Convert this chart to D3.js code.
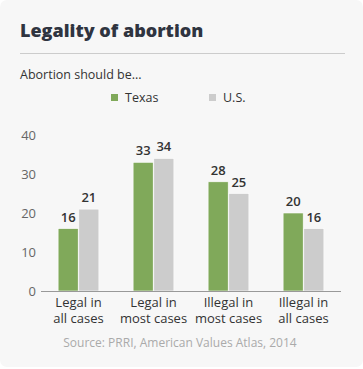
<!DOCTYPE html>
<html><head><meta charset="utf-8">
<script src="https://cdn.jsdelivr.net/npm/d3@7"></script>
<style>body{margin:0;background:#fff;}svg{display:block;font-family:"Open Sans",sans-serif;}</style>
</head><body><svg id="c" width="363" height="369"></svg>
<script>
const categories = [["Legal in","all cases"],["Legal in","most cases"],["Illegal in","most cases"],["Illegal in","all cases"]];
const seriesNames = ["Texas","U.S."];
const texas = [16,33,28,20];
const us = [21,34,25,16];
const yTicks = [0,10,20,30,40];
const colors = ["#80a95a","#cccccc"];

const svg = d3.select("#c");
svg.append("rect").attr("x",0).attr("y",0).attr("width",363).attr("height",367).attr("rx",7).attr("fill","#f7f7f7");
svg.append("text").attr("x",20).attr("y",37).attr("font-size",18).attr("font-weight",800).attr("fill","#2f3440").text("Legality of abortion");
svg.append("line").attr("x1",20).attr("x2",345).attr("y1",53.5).attr("y2",53.5).attr("stroke","#cccccc").attr("stroke-width",1);
svg.append("text").attr("x",20).attr("y",79).attr("font-size",12.5).attr("fill","#333").text("Abortion should be...");

const legX = [111,209];
seriesNames.forEach((n,i)=>{
  svg.append("rect").attr("x",legX[i]).attr("y",94).attr("width",7).attr("height",7).attr("fill",colors[i]);
  svg.append("text").attr("x",legX[i]+14).attr("y",101.5).attr("font-size",12.5).attr("fill","#333").text(n);
});

const x0 = d3.scaleBand().domain(d3.range(categories.length)).range([41,341]).paddingInner(0).paddingOuter(0);
const x1 = d3.scaleBand().domain(d3.range(2)).range([x0.bandwidth()*0.22, x0.bandwidth()*0.78]).padding(0.03);
const y = d3.scaleLinear().domain([0,40]).range([291,135]);

const yAxis = svg.append("g").attr("transform","translate(36,0)").call(d3.axisLeft(y).tickValues(yTicks).tickSize(0).tickPadding(0));
yAxis.select(".domain").remove();
yAxis.selectAll("text").attr("font-size",13).attr("fill","#666").attr("font-family","Open Sans, sans-serif");

const data = categories.map((c,i)=>[texas[i],us[i]]);
const g = svg.selectAll(".grp").data(data).enter().append("g").attr("transform",(d,i)=>`translate(${x0(i)},0)`);
g.selectAll("rect").data(d=>d).enter().append("rect")
  .attr("x",(d,j)=>x1(j)).attr("width",x1.bandwidth())
  .attr("y",d=>y(d)).attr("height",d=>y(0)-y(d))
  .attr("fill",(d,j)=>colors[j]).attr("stroke","#fff").attr("stroke-width",0.6);
g.selectAll("text").data(d=>d).enter().append("text")
  .attr("x",(d,j)=>x1(j)+x1.bandwidth()/2).attr("y",d=>y(d)-7)
  .attr("text-anchor","middle").attr("font-size",13).attr("font-weight",600).attr("fill","#333").text(d=>d);

svg.append("line").attr("x1",41).attr("x2",341).attr("y1",291.5).attr("y2",291.5).attr("stroke","#999").attr("stroke-width",1);

const xl = svg.selectAll(".xl").data(categories).enter().append("text")
  .attr("text-anchor","middle").attr("font-size",13).attr("fill","#333");
xl.each(function(d,i){
  const t=d3.select(this);
  const cx=x0(i)+x0.bandwidth()/2;
  d.forEach((line,k)=>t.append("tspan").attr("x",cx).attr("y",307+k*15.5).text(line));
});

svg.append("text").attr("x",180).attr("y",347).attr("text-anchor","middle").attr("font-size",12).attr("fill","#aaa").text("Source: PRRI, American Values Atlas, 2014");
</script></body></html>
